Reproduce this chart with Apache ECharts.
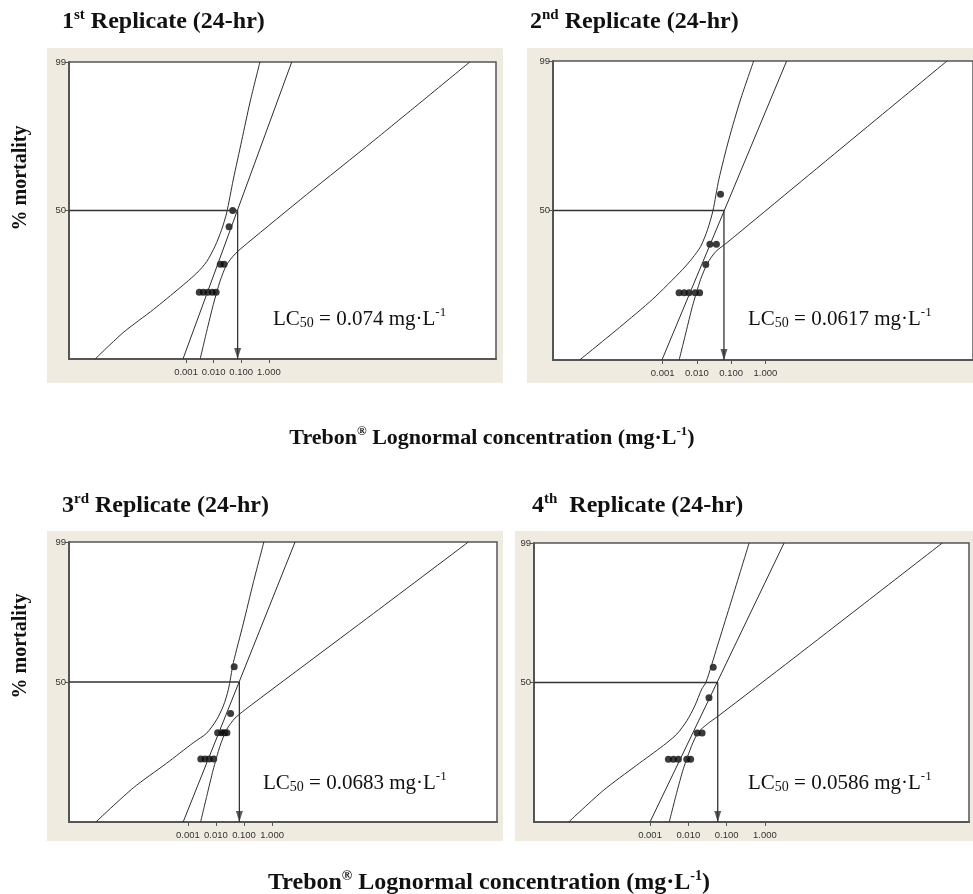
<!DOCTYPE html>
<html><head><meta charset="utf-8">
<script src="https://cdn.jsdelivr.net/npm/echarts@6/dist/echarts.min.js"></script>
<style>html,body{margin:0;padding:0;background:#fff}#c{width:973px;height:894px}</style>
</head><body><div id="c"></div>
<script>
// ---------- DATA ----------
// x values are log10(concentration, mg/L); curve y values are probits (z + 5)
const xTickLogs = [-3, -2, -1, 0];
const xTickLabels = ['0.001', '0.010', '0.100', '1.000'];
const yTickPct = [50, 99];
const lc50 = [0.074, 0.0617, 0.0683, 0.0586];
const lc50Text = ['0.074', '0.0617', '0.0683', '0.0586'];
const ordinals = ['1', '2', '3', '4'];
const ordinalSuffix = ['st', 'nd', 'rd', 'th'];

// observed points: log10 concentration and % mortality
const p1LogConc = [-2.52, -2.37, -2.21, -2.05, -1.91, -1.76, -1.62, -1.44, -1.31];
const p1Mort    = [10, 10, 10, 10, 10, 20, 20, 40, 50];
const p2LogConc = [-2.52, -2.37, -2.23, -2.05, -1.92, -1.74, -1.62, -1.43, -1.31];
const p2Mort    = [10, 10, 10, 10, 10, 20, 30, 30, 60];
const p3LogConc = [-2.54, -2.39, -2.24, -2.08, -1.94, -1.80, -1.70, -1.61, -1.48, -1.35];
const p3Mort    = [10, 10, 10, 10, 20, 20, 20, 20, 30, 60];
const p4LogConc = [-2.52, -2.39, -2.26, -2.04, -1.94, -1.77, -1.64, -1.46, -1.35];
const p4Mort    = [10, 10, 10, 10, 10, 20, 20, 40, 60];

// fitted probit lines [log10 conc, probit]
const fit1 = [[-3.11, 2.674], [0.83, 7.326]];
const fit2 = [[-3.02, 2.674], [0.62, 7.326]];
const fit3 = [[-3.17, 2.674], [0.82, 7.326]];
const fit4 = [[-3.00, 2.674], [0.50, 7.326]];

// lower fiducial limits
const lower1 = [[-6.30,2.67],[-5.27,3.09],[-4.18,3.45],[-3.22,3.79],[-2.61,4.02],[-2.25,4.20],[-1.95,4.44],[-1.71,4.70],[-1.53,4.96],[-1.29,5.48],[-0.98,6.10],[-0.68,6.70],[-0.32,7.33]];
const lower2 = [[-5.43,2.67],[-4.26,3.18],[-3.29,3.62],[-2.42,4.08],[-2.13,4.26],[-1.89,4.44],[-1.69,4.70],[-1.53,5.00],[-1.36,5.48],[-1.07,6.10],[-0.73,6.72],[-0.34,7.33]];
const lower3 = [[-6.29,2.67],[-4.95,3.24],[-3.76,3.65],[-2.81,3.99],[-2.33,4.15],[-1.98,4.37],[-1.74,4.60],[-1.56,4.87],[-1.38,5.32],[-1.02,5.98],[-0.67,6.65],[-0.29,7.33]];
const lower4 = [[-5.13,2.67],[-4.22,3.20],[-3.35,3.62],[-2.65,3.95],[-2.30,4.14],[-2.04,4.36],[-1.83,4.61],[-1.65,4.89],[-1.54,5.00],[-1.24,5.61],[-0.92,6.27],[-0.65,6.83],[-0.41,7.33]];

// upper fiducial limits
const upper1 = [[-2.49,2.67],[-2.25,3.11],[-2.01,3.53],[-1.77,3.89],[-1.53,4.15],[-1.22,4.32],[-0.80,4.48],[1.37,5.25],[3.79,6.09],[7.29,7.33]];
const upper2 = [[-2.52,2.67],[-2.32,3.10],[-2.13,3.51],[-1.89,3.93],[-1.69,4.18],[-1.45,4.36],[-1.12,4.50],[1.06,5.46],[2.99,6.31],[5.31,7.33]];
const upper3 = [[-2.55,2.67],[-2.33,3.10],[-2.10,3.54],[-1.86,3.93],[-1.62,4.21],[-1.32,4.40],[-0.96,4.54],[1.24,5.31],[3.62,6.14],[7.01,7.33]];
const upper4 = [[-2.50,2.67],[-2.30,3.17],[-2.13,3.56],[-1.91,3.95],[-1.74,4.17],[-1.50,4.31],[-1.22,4.44],[0.74,5.40],[2.48,6.26],[4.64,7.33]];

// ---------- helpers ----------
function normInv(p){
  const a=[-3.969683028665376e+01,2.209460984245205e+02,-2.759285104469687e+02,1.383577518672690e+02,-3.066479806614716e+01,2.506628277459239e+00];
  const b=[-5.447609879822406e+01,1.615858368580409e+02,-1.556989798598866e+02,6.680131188771972e+01,-1.328068155288572e+01];
  const c=[-7.784894002430293e-03,-3.223964580411365e-01,-2.400758277161838e+00,-2.549732539343734e+00,4.374664141464968e+00,2.938163982698783e+00];
  const d=[7.784695709041462e-03,3.224671290700398e-01,2.445134137142996e+00,3.754408661907416e+00];
  const pl=0.02425, ph=1-pl; let q,r;
  if(p<pl){q=Math.sqrt(-2*Math.log(p));return (((((c[0]*q+c[1])*q+c[2])*q+c[3])*q+c[4])*q+c[5])/((((d[0]*q+d[1])*q+d[2])*q+d[3])*q+1);}
  if(p<=ph){q=p-0.5;r=q*q;return (((((a[0]*r+a[1])*r+a[2])*r+a[3])*r+a[4])*r+a[5])*q/(((((b[0]*r+b[1])*r+b[2])*r+b[3])*r+b[4])*r+1);}
  q=Math.sqrt(-2*Math.log(1-p));return -(((((c[0]*q+c[1])*q+c[2])*q+c[3])*q+c[4])*q+c[5])/((((d[0]*q+d[1])*q+d[2])*q+d[3])*q+1);
}
const probit = pct => 5 + normInv(pct / 100);
const yMin = probit(1), yMax = probit(99);
const yTickVals = yTickPct.map(probit);

const ptsLog = [p1LogConc, p2LogConc, p3LogConc, p4LogConc];
const ptsMort = [p1Mort, p2Mort, p3Mort, p4Mort];
const fits = [fit1, fit2, fit3, fit4];
const lowers = [lower1, lower2, lower3, lower4];
const uppers = [upper1, upper2, upper3, upper4];

// ---------- LAYOUT ----------
const layout = [
  {grid:{left:69, top:62, width:427, height:297}, xMin:-7.24, xMax:8.23, bg:[47,48,456,335], title:[62,21], lc:[273,318]},
  {grid:{left:553, top:61, width:423, height:299}, xMin:-6.20, xMax:6.06, bg:[527,48,450,335], title:[530,21], lc:[748,318]},
  {grid:{left:69, top:542, width:428, height:280}, xMin:-7.24, xMax:8.02, bg:[47,531,456,310], title:[62,505], lc:[263,782]},
  {grid:{left:534, top:543, width:435, height:279}, xMin:-6.03, xMax:5.33, bg:[515,531,460,310], title:[532,505], lc:[748,782]}
];

const serif = "'Liberation Serif','Times New Roman',serif";
const tickFont = "'Liberation Sans',sans-serif";
const lineCol = '#2e2e2e';

const grids = [], xAxes = [], yAxes = [], series = [], graphics = [];

layout.forEach((L, i) => {
  grids.push(Object.assign({show:true, backgroundColor:'#fff', borderColor:'#555', borderWidth:1.5}, L.grid));
  xAxes.push({
    gridIndex:i, type:'value', min:L.xMin, max:L.xMax,
    axisLine:{show:true, onZero:false, lineStyle:{color:'#555', width:2}},
    axisTick:{show:true, customValues:xTickLogs, length:4, lineStyle:{color:'#555'}},
    axisLabel:{customValues:xTickLogs, fontFamily:tickFont, fontSize:9.5, color:'#333', margin:8,
      formatter: v => xTickLabels[xTickLogs.indexOf(Math.round(v))]},
    splitLine:{show:false}
  });
  yAxes.push({
    gridIndex:i, type:'value', min:yMin, max:yMax,
    axisLine:{show:true, onZero:false, lineStyle:{color:'#555', width:2}},
    axisTick:{show:true, customValues:yTickVals, length:4, lineStyle:{color:'#555'}},
    axisLabel:{customValues:yTickVals, fontFamily:tickFont, fontSize:9.5, color:'#333', margin:3,
      formatter: v => { let k=0; yTickVals.forEach((t,j)=>{ if(Math.abs(t-v)<Math.abs(yTickVals[k]-v)) k=j; }); return String(yTickPct[k]); }},
    splitLine:{show:false}
  });
  const common = {xAxisIndex:i, yAxisIndex:i, silent:true, animation:false};
  series.push(Object.assign({type:'line', data:fits[i], symbol:'none', lineStyle:{color:lineCol, width:1}}, common));
  series.push(Object.assign({type:'line', data:lowers[i], symbol:'none', smooth:0.25, lineStyle:{color:lineCol, width:1}}, common));
  series.push(Object.assign({type:'line', data:uppers[i], symbol:'none', smooth:0.25, lineStyle:{color:lineCol, width:1}}, common));
  const lx = Math.log10(lc50[i]);
  series.push(Object.assign({type:'line', data:[[L.xMin, 5], [lx, 5], [lx, yMin]], symbol:'none', lineStyle:{color:'#333', width:1.3}}, common));
  series.push(Object.assign({type:'scatter', data:[[lx, yMin]], symbol:'triangle', symbolRotate:180, symbolSize:[7,11], symbolOffset:[0,-5.5], clip:false, itemStyle:{color:'#333'}}, common));
  series.push(Object.assign({type:'scatter', data:ptsLog[i].map((x,j)=>[x, probit(ptsMort[i][j])]), symbol:'circle', symbolSize:7, itemStyle:{color:'#0a0a0a'}}, common));

  graphics.push({type:'rect', z:-10, shape:{x:L.bg[0], y:L.bg[1], width:L.bg[2], height:L.bg[3]}, style:{fill:'#efebe1'}});
  const sp = i === 3 ? '  ' : ' ';
  graphics.push({type:'text', z:100, x:L.title[0], y:L.title[1], style:{
    text:'{b|' + ordinals[i] + '}{s|' + ordinalSuffix[i] + '}{b|' + sp + 'Replicate (24-hr)}',
    verticalAlign:'middle', align:'left',
    rich:{
      b:{fontFamily:serif, fontWeight:'bold', fontSize:24, lineHeight:26, verticalAlign:'bottom', fill:'#111'},
      s:{fontFamily:serif, fontWeight:'bold', fontSize:15, lineHeight:17, verticalAlign:'top', fill:'#111'}
    }}});
  graphics.push({type:'text', z:100, x:L.lc[0], y:L.lc[1], style:{
    text:'{a|LC}{d|50}{a| = ' + lc50Text[i] + ' mg\u00B7L}{u|-1}',
    verticalAlign:'middle', align:'left',
    rich:{
      a:{fontFamily:serif, fontSize:21, lineHeight:24, verticalAlign:'bottom', fill:'#111'},
      d:{fontFamily:serif, fontSize:14, lineHeight:14, verticalAlign:'bottom', fill:'#111'},
      u:{fontFamily:serif, fontSize:13, lineHeight:15, verticalAlign:'top', fill:'#111'}
    }}});
});

// axis titles
[[21,178],[21,646]].forEach(p => graphics.push({type:'text', z:100, x:p[0], y:p[1], rotation:Math.PI/2,
  style:{text:'% mortality', font:'bold 20px ' + serif, fill:'#111', align:'center', verticalAlign:'middle'}}));
[[492,437,22],[489,882,24]].forEach(p => graphics.push({type:'text', z:100, x:p[0], y:p[1], style:{
  text:'{b|Trebon}{s|\u00AE}{b| Lognormal concentration (mg\u00B7L}{s|-1}{b|)}',
  align:'center', verticalAlign:'middle',
  rich:{
    b:{fontFamily:serif, fontWeight:'bold', fontSize:p[2], lineHeight:p[2]+2, verticalAlign:'bottom', fill:'#111'},
    s:{fontFamily:serif, fontWeight:'bold', fontSize:Math.round(p[2]*0.6), lineHeight:Math.round(p[2]*0.7), verticalAlign:'top', fill:'#111'}
  }}}));

const chart = echarts.init(document.getElementById('c'), null, {renderer:'canvas'});
chart.setOption({
  backgroundColor:'#fff', animation:false,
  grid:grids, xAxis:xAxes, yAxis:yAxes, series:series, graphic:graphics
});
</script></body></html>
